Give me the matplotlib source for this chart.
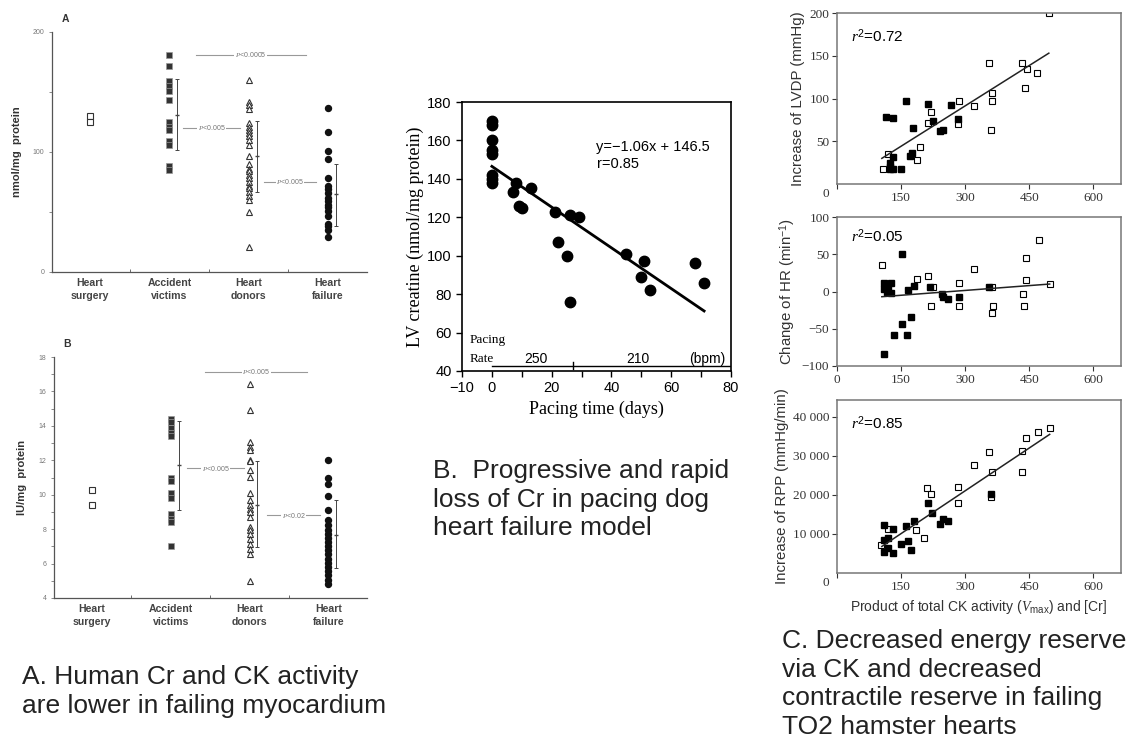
"""Three-panel creatine / CK summary figure (human, pacing dog, TO2 hamster)."""

import matplotlib
matplotlib.use("Agg")
import matplotlib.pyplot as plt

W, H = 1137, 750
SANS = "Liberation Sans"
SERIF = "Liberation Serif"

# ---- panel A: human myocardium -------------------------------------------
A_groups = ["Heart\nsurgery", "Accident\nvictims", "Heart\ndonors", "Heart\nfailure"]

A_cr_surgery = [130, 125]
A_cr_accident = [181, 172, 159, 155, 151, 143, 125, 121, 118, 109, 106, 88, 85]
A_cr_donors = [160, 142, 139, 136, 124, 121, 118, 116, 113, 110, 106, 97, 90,
               86, 84, 81, 78, 75, 72, 70, 67, 63, 60, 50, 21]
A_cr_failure = [137, 117, 101, 94, 78, 72, 69, 66, 62, 59, 56, 54, 51, 47,
                40, 38, 35, 29]
A_cr_err = [(2, 131, 102, 161), (3, 97, 67, 126), (4, 65, 38, 90)]
A_cr_p = [(2.33, 3.72, 181, "<0.0005"), (2.17, 2.89, 120, "<0.005"),
          (3.19, 3.85, 75, "<0.005")]

A_ck_surgery = [10.3, 9.4]
A_ck_accident = [14.4, 14.2, 13.9, 13.6, 13.4, 11.0, 10.8, 10.1, 9.8, 8.9,
                 8.6, 8.4, 7.0]
A_ck_donors = [16.45, 14.9, 13.06, 12.77, 12.6, 12.04, 11.94, 11.42, 11.03,
               10.1, 9.67, 9.38, 9.19, 9.0, 8.7, 8.12, 7.93, 7.74, 7.45, 7.16,
               6.87, 6.58, 4.97]
A_ck_failure = [12.04, 10.97, 10.64, 9.9, 9.13, 8.51, 8.26, 7.97, 7.74, 7.5,
                7.25, 7.0, 6.77, 6.54, 6.29, 6.03, 5.8, 5.57, 5.32, 5.07, 4.83]
A_ck_err = [(2, 11.7, 9.13, 14.26), (3, 9.38, 6.96, 11.98), (4, 7.68, 5.74, 9.67)]
A_ck_p = [(2.44, 3.73, 17.13, "<0.005"), (2.21, 2.93, 11.55, "<0.005"),
          (3.22, 3.90, 8.8, "<0.02")]

# ---- panel B: pacing dog ---------------------------------------------------
B_days = [0, 0, 0, 0, 0, 0, 0, 0, 7, 8, 9, 10, 13, 21, 22, 25, 26, 26, 29,
          45, 50, 51, 53, 68, 71]
B_cr = [170, 168, 160, 155, 153, 142, 140, 138, 133, 138, 126, 125, 135, 123,
        107, 100, 121, 76, 120, 101, 89, 97, 82, 96, 86]
B_slope, B_icpt = -1.06, 146.5
B_fit_x = [0, 71]
B_rates = [(14.7, "250"), (49, "210"), (72, "(bpm)")]
B_rate_switch = 27

# ---- panel C: TO2 hamster --------------------------------------------------
C1_fx = [115, 132, 162, 213, 266, 225, 283, 178, 241, 248, 171, 175, 132, 124,
         123, 124, 132, 150]
C1_fy = [78, 77, 97, 93, 92, 74, 76, 65, 62, 63, 33, 36, 31, 24, 20, 18, 18, 18]
C1_ox = [107, 119, 188, 195, 212, 221, 285, 284, 321, 356, 362, 362, 360, 433,
         444, 469, 440, 496]
C1_oy = [17, 35, 28, 43, 71, 84, 97, 70, 91, 141, 107, 97, 63, 141, 134, 130,
         112, 200]
C1_fit = ([105, 496], [30, 153])

C2_fx = [111, 153, 134, 164, 153, 174, 111, 126, 119, 116, 126, 166, 181, 217,
         245, 248, 260, 285, 356, 110]
C2_fy = [-84, 50, -58, -59, -44, -34, 11, 11, 5, 0, -2, 2, 8, 6, -4, -8, -10,
         -8, 6, 3]
C2_ox = [106, 188, 212, 225, 219, 285, 285, 321, 362, 366, 362, 435, 437, 443,
         443, 474, 498]
C2_oy = [36, 17, 21, 6, -19, 11, -19, 30, -29, -19, 6, -4, -19, 16, 45, 69, 10]
C2_fit = ([105, 498], [-7, 10])

C3_fx = [111, 131, 111, 120, 111, 120, 132, 150, 162, 166, 174, 181, 213, 223,
         241, 248, 260, 360]
C3_fy = [12400, 11300, 8500, 9000, 5500, 6400, 5100, 7400, 12000, 8300, 5900,
         13400, 17800, 15300, 12600, 13700, 13300, 20200]
C3_ox = [102, 119, 185, 204, 211, 221, 283, 283, 321, 356, 362, 360, 433, 433,
         443, 471, 498]
C3_oy = [7200, 11300, 10900, 9000, 21700, 20200, 22100, 18000, 27700, 31100,
         25800, 19500, 31200, 25900, 34600, 36100, 37200]
C3_fit = ([105, 498], [6800, 35500])

CAP_A = "A. Human Cr and CK activity\nare lower in failing myocardium"
CAP_B = "B.  Progressive and rapid\nloss of Cr in pacing dog\nheart failure model"
CAP_C = ("C. Decreased energy reserve\nvia CK and decreased\n"
         "contractile reserve in failing\nTO2 hamster hearts")


def box(l, t, r, b):
    return [l / W, 1 - b / H, (r - l) / W, (b - t) / H]


def human_panel(fig, rect, vals, errs, pvals, ylim, yticks, minor, ylabel, tag):
    ax = fig.add_axes(rect)
    surg, acc, don, fail = vals
    ax.plot([1] * len(surg), surg, "s", ms=4, mfc="white", mec="#333", mew=0.8)
    ax.plot([2] * len(acc), acc, "s", ms=4.2, mfc="#333", mec="#999", mew=0.5)
    ax.plot([3] * len(don), don, "^", ms=4, mfc="white", mec="#333", mew=0.8)
    ax.plot([4] * len(fail), fail, "o", ms=4.3, mfc="#111", mec="#111")
    for g, m, lo, hi in errs:
        ax.errorbar(g + 0.1, m, yerr=[[m - lo], [hi - m]], fmt="_", ms=3,
                    c="#444", lw=0.7, capsize=1.5, capthick=0.7)
    for x0, x1, y, txt in pvals:
        ax.plot([x0, x1], [y, y], c="#999", lw=0.8)
        ax.text((x0 + x1) / 2, y, r"$P$" + txt, fontsize=5, color="#777",
                ha="center", va="center", family=SANS,
                bbox=dict(fc="white", ec="none", pad=0.4))
    ax.set_xlim(0.52, 4.49)
    ax.set_ylim(*ylim)
    ax.set_xticks([1, 2, 3, 4])
    ax.set_xticklabels(A_groups, fontsize=7.6, fontweight="bold", color="#444",
                       family=SANS, linespacing=1.45)
    ax.set_xticks([1.5, 2.5, 3.5], minor=True)
    ax.tick_params(axis="x", which="major", length=0, pad=4)
    ax.tick_params(axis="x", which="minor", length=2.5, direction="in",
                   color="#555")
    ax.set_yticks(yticks)
    ax.set_yticks(minor, minor=True)
    ax.tick_params(axis="y", which="both", labelsize=5, colors="#777",
                   length=2, width=0.6)
    ax.set_ylabel(ylabel, fontsize=8, fontweight="bold", family=SANS,
                  color="#333", labelpad=8)
    for s in ("top", "right"):
        ax.spines[s].set_visible(False)
    for s in ("left", "bottom"):
        ax.spines[s].set_color("#555")
        ax.spines[s].set_linewidth(0.9)
    ax.text(0.03, 1.04, tag, transform=ax.transAxes, fontsize=7.5,
            fontweight="bold", family=SANS, color="#333")
    return ax


def dog_panel(fig):
    ax = fig.add_axes(box(462, 102, 731, 371))
    ax.plot(B_days, B_cr, "o", ms=7.5, c="black")
    ax.plot(B_fit_x, [B_slope * x + B_icpt for x in B_fit_x], c="black", lw=2)
    ax.set_xlim(-10, 80)
    ax.set_ylim(40, 180)
    ax.set_xticks(range(-10, 81, 10))
    ax.set_xticklabels(["\u221210", "0", "", "20", "", "40", "", "60", "", "80"])
    ax.set_yticks(range(40, 181, 20))
    ax.tick_params(labelsize=10.5, length=4, width=1)
    for lab in ax.get_xticklabels() + ax.get_yticklabels():
        lab.set_family(SANS)
    for s in ax.spines.values():
        s.set_linewidth(1.2)
    ax.set_xlabel("Pacing time (days)", family=SERIF, fontsize=13, labelpad=4)
    ax.set_ylabel("LV creatine (nmol/mg protein)", family=SERIF, fontsize=13,
                  labelpad=2)
    ax.text(0.5, 0.86, "y=\u22121.06x + 146.5\nr=0.85", transform=ax.transAxes,
            fontsize=10.5, family=SANS, linespacing=1.3, va="top")
    ax.plot([0, 80], [42.6, 42.6], c="black", lw=1)
    ax.plot([B_rate_switch] * 2, [40.8, 44.5], c="black", lw=1)
    ax.text(-7.5, 56, "Pacing", family=SERIF, fontsize=9.5, va="center")
    ax.text(-7.5, 46.3, "Rate", family=SERIF, fontsize=9.5, va="center")
    for x, t in B_rates:
        ax.text(x, 46.3, t, family=SANS, fontsize=10, ha="center", va="center")


def hamster_panel(fig, rect, fx, fy, ox, oy, fit, r2, ylim, yticks, ylabels,
                  ylabel, xlabels=None, corner0=False, xlabel=None):
    ax = fig.add_axes(rect)
    ax.plot(ox, oy, "s", ms=4.3, mfc="white", mec="black", mew=0.8)
    ax.plot(fx, fy, "s", ms=4.3, mfc="black", mec="black")
    ax.plot(*fit, c="#222", lw=1.1)
    ax.set_xlim(0, 665)
    ax.set_ylim(*ylim)
    ax.set_xticks([0, 150, 300, 450, 600])
    ax.set_xticklabels(xlabels or ["", "150", "300", "450", "600"])
    ax.set_yticks(yticks)
    ax.set_yticklabels(ylabels)
    ax.tick_params(labelsize=9.5, length=3.5, width=0.8, colors="#333", pad=2)
    for lab in ax.get_xticklabels() + ax.get_yticklabels():
        lab.set_family(SERIF)
    for s in ax.spines.values():
        s.set_color("#777")
        s.set_linewidth(1.1)
    if corner0:
        ax.annotate("0", (0, 0), xycoords="axes fraction", xytext=(-8, -3),
                    textcoords="offset points", ha="center", va="top",
                    fontsize=9.5, family=SERIF, color="#333")
    ax.text(0.05, 0.83, r"$r^2$=" + r2, transform=ax.transAxes, fontsize=11,
            family=SANS)
    ax.set_ylabel(ylabel, fontsize=10.8, family=SANS, color="#333", labelpad=3)
    if xlabel:
        ax.set_xlabel(xlabel, fontsize=10, family=SANS, color="#333", labelpad=4)
    return ax


def main():
    plt.rcParams["font.family"] = [SANS, "DejaVu Sans"]
    plt.rcParams["mathtext.fontset"] = "custom"
    plt.rcParams["mathtext.it"] = SERIF + ":italic"
    plt.rcParams["mathtext.rm"] = SANS
    fig = plt.figure(figsize=(W / 100, H / 100), dpi=100)

    human_panel(fig, box(52, 32, 367, 272),
                (A_cr_surgery, A_cr_accident, A_cr_donors, A_cr_failure),
                A_cr_err, A_cr_p, (0, 200), [0, 100, 200],
                range(0, 201, 50), "nmol/mg  protein", "A")
    human_panel(fig, box(54, 357, 367, 598),
                (A_ck_surgery, A_ck_accident, A_ck_donors, A_ck_failure),
                A_ck_err, A_ck_p, (4, 18), range(4, 19, 2), range(4, 19),
                "IU/mg  protein", "B")

    dog_panel(fig)

    hamster_panel(fig, box(837, 13, 1121, 184), C1_fx, C1_fy, C1_ox, C1_oy,
                  C1_fit, "0.72", (0, 200), [50, 100, 150, 200],
                  ["50", "100", "150", "200"], "Increase of LVDP (mmHg)",
                  corner0=True)
    hamster_panel(fig, box(837, 217, 1121, 366), C2_fx, C2_fy, C2_ox, C2_oy,
                  C2_fit, "0.05", (-100, 100), [-100, -50, 0, 50, 100],
                  ["\u2212100", "\u221250", "0", "50", "100"],
                  "Change of HR (min$^{-1}$)",
                  xlabels=["0", "150", "300", "450", "600"])
    hamster_panel(fig, box(837, 400, 1121, 573), C3_fx, C3_fy, C3_ox, C3_oy,
                  C3_fit, "0.85", (0, 44300), [10000, 20000, 30000, 40000],
                  ["10 000", "20 000", "30 000", "40 000"],
                  "Increase of RPP (mmHg/min)", corner0=True,
                  xlabel=r"Product of total CK activity ($V_{\mathrm{max}}$) and [Cr]")

    for x, y, txt in ((22, 665, CAP_A), (433, 459, CAP_B), (782, 629, CAP_C)):
        fig.text(x / W, 1 - y / H, txt, fontsize=19, family=SANS,
                 color="#222", va="top", linespacing=1.24)

    fig.savefig("out.png", dpi=100)
    plt.close(fig)


if __name__ == "__main__":
    main()
